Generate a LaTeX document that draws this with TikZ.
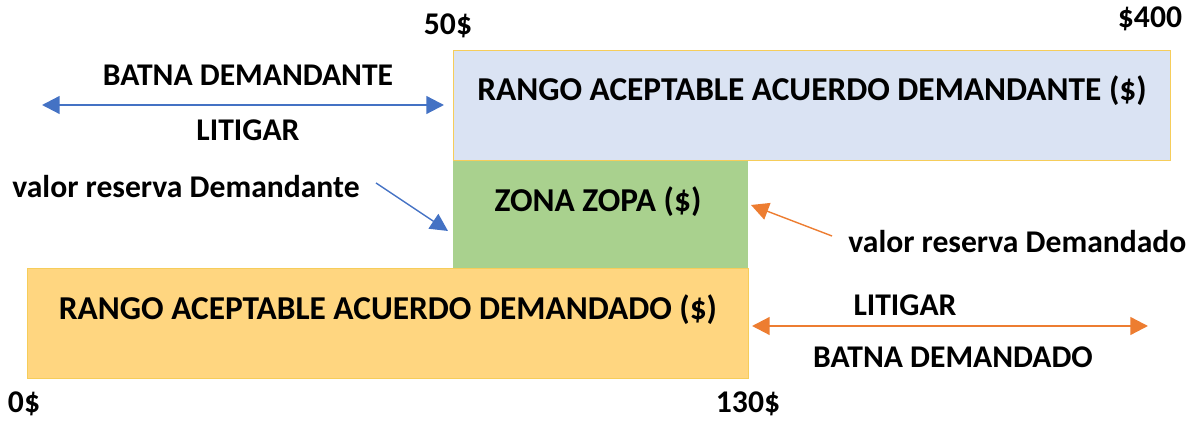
\documentclass[tikz,border=0pt]{standalone}
\usepackage{fontspec}
\setmainfont{Carlito}
\usetikzlibrary{arrows.meta}
\definecolor{borde}{RGB}{246,205,90}
\definecolor{azulclaro}{RGB}{218,227,243}
\definecolor{verdeclaro}{RGB}{169,209,142}
\definecolor{naranjaclaro}{RGB}{255,214,128}
\definecolor{azul}{RGB}{68,114,196}
\definecolor{naranja}{RGB}{237,125,49}
\tikzset{
	caja/.style={draw=borde, line width=0.8pt, anchor=north west, inner sep=0pt},
	etiq/.style={font=\bfseries\fontsize{19}{21}\selectfont, inner sep=0pt},
	chica/.style={font=\bfseries\fontsize{18}{20}\selectfont, inner sep=0pt},
	flecha/.style={line width=1.3pt, -{Triangle[length=10pt,width=10pt]}},
	dobleflecha/.style={line width=1.3pt, {Triangle[length=10pt,width=10pt]}-{Triangle[length=10pt,width=10pt]}}
}
\begin{document}
\begin{tikzpicture}[x=0.02cm, y=-0.02cm]
		\useasboundingbox (0,0) rectangle (1202,421);
		
		% cajas
		\node[caja, fill=azulclaro, minimum width=717*0.02cm, minimum height=110*0.02cm] (demandante) at (453,50) {};
		\node[caja, draw=none, fill=verdeclaro, minimum width=295*0.02cm, minimum height=108*0.02cm] (zopa) at (452,160) {};
		\node[caja, fill=naranjaclaro, minimum width=721*0.02cm, minimum height=110*0.02cm] (demandado) at (27,268) {};
		
		\node[etiq] (tdemandante) at (812,91) {RANGO ACEPTABLE ACUERDO DEMANDANTE (\$)};
		\node[etiq] (tzopa) at (598,202) {ZONA ZOPA (\$)};
		\node[etiq] (tdemandado) at (388,310) {RANGO ACEPTABLE ACUERDO DEMANDADO (\$)};
		
		% valores
		\node[chica] (v50) at (448,26) {50\$};
		\node[chica] (v400) at (1150,19) {\$400};
		\node[chica] (v0) at (24,404) {0\$};
		\node[chica] (v130) at (748,404) {130\$};
		
		% BATNA demandante
		\node[chica] (batnaA) at (248,75) {BATNA DEMANDANTE};
		\node[chica] (litigarA) at (248,130) {LITIGAR};
		\coordinate (a1) at (42,105);
		\coordinate (a2) at (444,105);
		\draw[dobleflecha, azul] (a1) -- (a2);
		
		% BATNA demandado
		\node[chica] (litigarB) at (905,305) {LITIGAR};
		\node[chica] (batnaB) at (953,357) {BATNA DEMANDADO};
		\coordinate (b1) at (752,326);
		\coordinate (b2) at (1148,326);
		\draw[dobleflecha, naranja] (b1) -- (b2);
		
		% valores de reserva
		\node[chica, anchor=west] (resA) at (12,187) {valor reserva Demandante};
		\coordinate (ra) at (448,231);
		\draw[flecha, azul, line width=0.8pt] (resA.east) ++(16,-4) -- (ra);
		\node[chica, anchor=west] (resB) at (848,242) {valor reserva Demandado};
		\coordinate (rb) at (751,205);
		\draw[flecha, naranja, line width=0.8pt] (resB.west) ++(-16,-6) -- (rb);
	\end{tikzpicture}
\end{document}
